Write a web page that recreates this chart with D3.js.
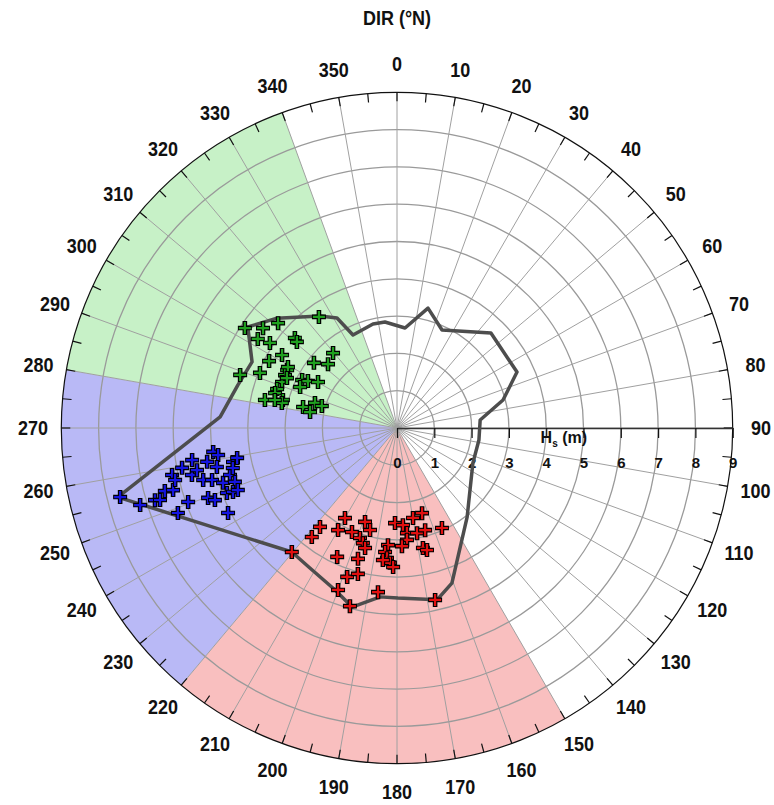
<!DOCTYPE html>
<html>
<head>
<meta charset="utf-8">
<script src="https://cdn.jsdelivr.net/npm/d3@7"></script>
<style>
  body { margin: 0; background: #fff; }
  text { font-family: Arial, "Liberation Sans", sans-serif; font-weight: bold; fill: #111; }
</style>
</head>
<body>
<svg id="chart" width="774" height="805"></svg>
<script>
// Direction grid (degrees from north) and significant wave height rings (m)
const dirTicks = d3.range(0, 360, 10);
const dirMinorTicks = d3.range(0, 360, 5);
const hsTicks = [0, 1, 2, 3, 4, 5, 6, 7, 8, 9];

// Shaded direction sectors: south, west, north-west
const sectorStart = [150, 220, 280];
const sectorEnd = [220, 280, 340];
const sectorTint = ["#f9bfbf", "#b9b9f6", "#c7f1c7"];

// Envelope of maximum Hs per direction
const envDir = [353.5, 4.6, 14.5, 24.7, 44.7, 65.0, 75.2, 84.5, 98.3, 114.7, 141.8, 160.5, 166.9, 179.7, 185.7, 194.1, 200.9, 211.9, 220.3, 256.1, 273.6, 285.1, 294.5, 304.1, 312.5, 325.5, 331.4, 334.7, 347.0];
const envHs  = [2.86, 2.69, 3.32, 2.89, 3.58, 3.55, 2.94, 2.24, 2.22, 2.24, 3.04, 4.41, 4.73, 4.56, 4.55, 4.95, 4.65, 4.42, 4.36, 7.71, 4.75, 4.42, 4.27, 4.83, 4.36, 3.64, 3.36, 2.76, 2.86];

// Storm events, north-west group
const greenDir = [303.3, 306.7, 311.4, 302.6, 303.8, 311.4, 310.7, 319.5, 302.4, 297.6, 308.1, 312.8, 291.9, 288.7, 297.8, 295.3, 291.8, 296.8, 297.8, 300.2, 292.9, 288.0, 286.0, 282.0, 283.8, 282.3, 282.9, 282.6, 287.0, 286.3, 280.4, 324.9, 299.2, 294.4];
const greenHs  = [4.88, 4.48, 4.25, 4.43, 4.10, 3.65, 3.54, 2.64, 3.65, 3.87, 2.83, 2.52, 3.96, 4.44, 3.33, 3.32, 3.32, 2.85, 2.70, 2.45, 2.82, 3.38, 3.40, 3.62, 3.15, 3.16, 3.36, 2.58, 2.30, 2.10, 2.37, 3.64, 3.35, 3.24];

// Storm events, west group
const blueDir = [256.0, 253.3, 253.4, 253.1, 254.8, 254.5, 248.8, 250.5, 258.2, 256.8, 259.5, 261.1, 257.1, 258.1, 255.0, 254.3, 259.9, 262.6, 261.4, 257.8, 252.5, 254.3, 258.3, 259.4, 251.6, 249.1, 248.7, 248.7, 249.7, 248.4, 243.3, 256.3];
const blueHs  = [7.65, 7.19, 6.77, 6.64, 6.45, 6.23, 6.30, 5.94, 6.16, 6.11, 5.86, 5.56, 5.64, 5.48, 5.38, 5.15, 5.17, 4.97, 4.85, 4.94, 4.89, 4.65, 4.49, 4.36, 4.58, 4.88, 4.72, 4.58, 5.40, 5.25, 5.07, 4.53];

// Storm events, south group
const redDir = [220.3, 218.0, 217.9, 210.0, 210.0, 203.4, 198.8, 194.8, 198.6, 196.5, 194.9, 204.9, 196.6, 198.5, 195.0, 200.0, 194.8, 186.6, 181.2, 176.5, 169.9, 163.6, 174.6, 174.9, 177.6, 184.4, 185.5, 184.4, 183.0, 181.6, 169.2, 164.6, 167.8, 166.2, 155.8, 167.5, 186.1];
const redHs  = [4.36, 3.71, 3.36, 3.16, 2.79, 3.04, 2.66, 2.83, 3.11, 3.22, 3.33, 3.81, 3.66, 4.21, 4.05, 4.62, 4.94, 4.43, 2.55, 2.61, 2.45, 2.38, 2.83, 3.01, 3.17, 3.15, 3.34, 3.50, 3.62, 3.73, 2.87, 2.84, 3.29, 3.37, 2.94, 4.72, 3.56];

const markerColors = ["#1f9f1f", "#1515e0", "#e01010"];

const cx = 397, cy = 428;
const svg = d3.select("#chart");

const r = d3.scaleLinear().domain([0, 9]).range([0, 335.7]);
const ang = d3.scaleLinear().domain([0, 360]).range([0, 2 * Math.PI]);
const px = (dir, hs) => r(hs) * Math.sin(ang(dir));
const py = (dir, hs) => -r(hs) * Math.cos(ang(dir));

const g = svg.append("g").attr("transform", `translate(${cx},${cy})`);

// Sectors
const arc = d3.arc().innerRadius(0).outerRadius(r(9));
sectorStart.forEach((s, i) => {
  g.append("path")
    .attr("d", arc({ startAngle: ang(s), endAngle: ang(sectorEnd[i]) }))
    .attr("fill", sectorTint[i]);
});

// Range rings
g.append("g").selectAll("circle")
  .data(hsTicks.filter(h => h > 0 && h < 9))
  .join("circle")
  .attr("r", d => r(d))
  .attr("fill", "none")
  .attr("stroke", "#9a9a9a")
  .attr("stroke-width", 1.3);

// Spokes
g.append("g").selectAll("line")
  .data(dirTicks)
  .join("line")
  .attr("x1", 0).attr("y1", 0)
  .attr("x2", d => px(d, 9)).attr("y2", d => py(d, 9))
  .attr("stroke", "#a0a0a0")
  .attr("stroke-width", 1);

// Outer ring and its ticks
g.append("circle").attr("r", r(9)).attr("fill", "none").attr("stroke", "#111").attr("stroke-width", 1.2);
g.append("g").selectAll("line")
  .data(dirMinorTicks)
  .join("line")
  .attr("x1", d => px(d, 9) * (1 - 9 / r(9))).attr("y1", d => py(d, 9) * (1 - 9 / r(9)))
  .attr("x2", d => px(d, 9)).attr("y2", d => py(d, 9))
  .attr("stroke", "#111")
  .attr("stroke-width", 1.2);

// Hs axis along east
const hsAxis = d3.axisBottom(r).tickValues(hsTicks).tickSize(10).tickSizeOuter(0).tickPadding(19);
const axG = g.append("g").call(hsAxis);
axG.select(".domain").attr("stroke", "#333").attr("stroke-width", 1.6);
axG.selectAll(".tick line").attr("stroke", "#111").attr("stroke-width", 1.2);
axG.selectAll(".tick text")
  .style("font-family", "Arial, 'Liberation Sans', sans-serif")
  .style("font-weight", "bold")
  .style("font-size", "15px")
  .attr("fill", "#111");

const hsLabel = g.append("text")
  .attr("x", r(3.85)).attr("y", 15)
  .style("font-size", "16px");
hsLabel.append("tspan").text("H");
hsLabel.append("tspan").text("s").style("font-size", "10px").attr("dy", 4);
hsLabel.append("tspan").text(" (m)").attr("dy", -4);

// Envelope
const env = envDir.map((d, i) => ({ dir: d, hs: envHs[i] }));
g.append("path")
  .attr("d", d3.lineRadial().angle(d => ang(d.dir)).radius(d => r(d.hs)).curve(d3.curveLinearClosed)(env))
  .attr("fill", "none")
  .attr("stroke", "#4d4d4d")
  .attr("stroke-width", 3.5)
  .attr("stroke-linejoin", "round");

// Event markers
const plus = "M-7,0H7M0,-7V7";
const plusInner = "M-6,0H6M0,-6V6";
[[greenDir, greenHs], [blueDir, blueHs], [redDir, redHs]].forEach(([dirs, hss], k) => {
  const pts = dirs.map((d, i) => ({ dir: d, hs: hss[i] }));
  const mg = g.append("g");
  const sel = mg.selectAll("g").data(pts).join("g")
    .attr("transform", d => `translate(${px(d.dir, d.hs)},${py(d.dir, d.hs)})`);
  sel.append("path").attr("d", plus).attr("stroke", "#000").attr("stroke-width", 4.6).attr("fill", "none");
  sel.append("path").attr("d", plusInner).attr("stroke", markerColors[k]).attr("stroke-width", 2.2).attr("fill", "none");
});

// Direction labels
g.append("g").selectAll("text")
  .data(dirTicks)
  .join("text")
  .attr("transform", d => `translate(${px(d, 9) * 364 / r(9)},${py(d, 9) * 364 / r(9)}) scale(1,1.12)`)
  .attr("text-anchor", "middle")
  .attr("dy", "0.36em")
  .style("font-size", "18px")
  .text(d => d);

// Title
svg.append("text")
  .attr("transform", "translate(397,18) scale(1,1.12)")
  .attr("text-anchor", "middle")
  .attr("dy", "0.36em")
  .style("font-size", "18px")
  .text("DIR (°N)");
</script>
</body>
</html>
